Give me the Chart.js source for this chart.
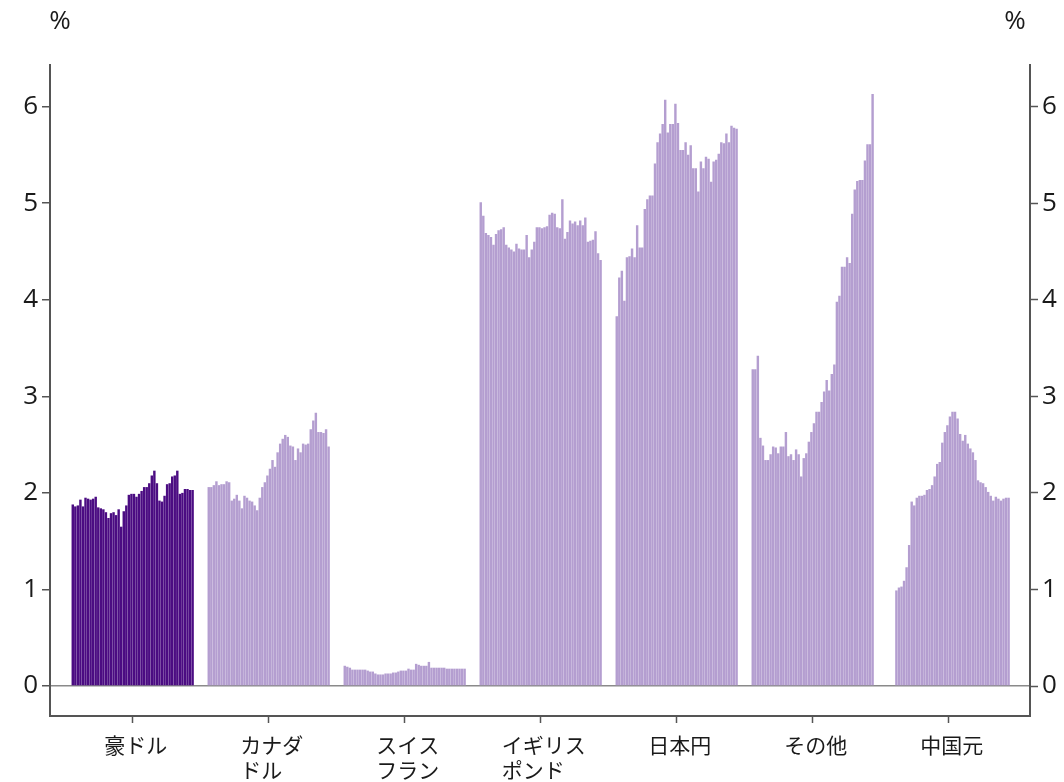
<!DOCTYPE html>
<html>
<head>
<meta charset="utf-8">
<script src="https://cdn.jsdelivr.net/npm/chart.js@4"></script>
<style>
  body { margin: 0; background: #fff; }
  #wrap { width: 1064px; height: 782px; }
</style>
</head>
<body>
<div id="wrap"><canvas id="fxChart"></canvas></div>
<script>
// group names (multi line ones padded so the second line sits left like the original)
const categories = ['豪ドル', ['カナダ', 'ドル\u3000'], ['スイス', 'フラン'], ['イギリス', 'ポンド\u3000'], '日本円', 'その他', '中国元'];
const yTicks = [0, 1, 2, 3, 4, 5, 6];

// quarterly values per currency, %
const audVals = [1.88, 1.86, 1.87, 1.93, 1.86, 1.95, 1.94, 1.93, 1.94, 1.96, 1.85, 1.84, 1.83, 1.80, 1.74, 1.79, 1.80, 1.77, 1.83, 1.65,
  1.81, 1.87, 1.98, 1.99, 1.99, 1.96, 1.99, 2.02, 2.06, 2.06, 2.10, 2.18, 2.23, 2.10, 1.92, 1.91, 1.97, 2.09, 2.10, 2.17,
  2.18, 2.23, 1.99, 2.00, 2.04, 2.04, 2.03, 2.03];
const cadVals = [2.06, 2.06, 2.08, 2.12, 2.08, 2.09, 2.09, 2.12, 2.11, 1.92, 1.94, 1.98, 1.92, 1.84, 1.97, 1.95, 1.92, 1.91, 1.87, 1.82,
  1.95, 2.06, 2.11, 2.18, 2.25, 2.34, 2.27, 2.42, 2.51, 2.56, 2.60, 2.58, 2.49, 2.48, 2.34, 2.46, 2.42, 2.51, 2.50, 2.51,
  2.66, 2.75, 2.83, 2.63, 2.63, 2.62, 2.66, 2.48];
const chfVals = [0.21, 0.20, 0.19, 0.17, 0.17, 0.17, 0.17, 0.17, 0.17, 0.16, 0.15, 0.15, 0.13, 0.12, 0.12, 0.12, 0.13, 0.13, 0.13, 0.14,
  0.14, 0.15, 0.16, 0.16, 0.16, 0.18, 0.17, 0.17, 0.23, 0.22, 0.21, 0.21, 0.21, 0.25, 0.19, 0.19, 0.19, 0.19, 0.19, 0.19,
  0.18, 0.18, 0.18, 0.18, 0.18, 0.18, 0.18, 0.18];
const gbpVals = [5.01, 4.87, 4.69, 4.67, 4.65, 4.57, 4.68, 4.72, 4.73, 4.75, 4.57, 4.54, 4.52, 4.50, 4.58, 4.53, 4.52, 4.52, 4.67, 4.44,
  4.52, 4.60, 4.75, 4.75, 4.74, 4.75, 4.76, 4.88, 4.90, 4.89, 4.75, 4.74, 5.04, 4.63, 4.70, 4.82, 4.79, 4.81, 4.77, 4.82,
  4.77, 4.85, 4.60, 4.61, 4.62, 4.71, 4.48, 4.41];
const jpyVals = [3.83, 4.23, 4.30, 3.99, 4.44, 4.45, 4.53, 4.44, 4.77, 4.54, 4.54, 4.94, 5.04, 5.08, 5.08, 5.41, 5.63, 5.72, 5.82, 6.07,
  5.73, 5.82, 5.82, 6.03, 5.83, 5.55, 5.55, 5.63, 5.50, 5.60, 5.36, 5.36, 5.12, 5.43, 5.36, 5.48, 5.46, 5.22, 5.43, 5.45,
  5.51, 5.63, 5.62, 5.72, 5.63, 5.80, 5.78, 5.77];
const othVals = [3.28, 3.28, 3.42, 2.57, 2.49, 2.34, 2.34, 2.40, 2.48, 2.47, 2.41, 2.48, 2.48, 2.63, 2.38, 2.40, 2.34, 2.45, 2.40, 2.17,
  2.36, 2.41, 2.53, 2.63, 2.72, 2.84, 2.84, 2.94, 3.05, 3.17, 3.06, 3.23, 3.33, 3.98, 4.04, 4.34, 4.34, 4.44, 4.38, 4.89,
  5.14, 5.23, 5.24, 5.24, 5.44, 5.61, 5.61, 6.13];
const cnyVals = [null, null, null, 0.99, 1.02, 1.03, 1.09, 1.23, 1.46, 1.91, 1.87, 1.95, 1.97, 1.97, 1.98, 2.03, 2.04, 2.08, 2.17, 2.30,
  2.32, 2.52, 2.63, 2.70, 2.79, 2.84, 2.84, 2.77, 2.61, 2.54, 2.60, 2.51, 2.46, 2.42, 2.34, 2.13, 2.11, 2.10, 2.06, 2.01,
  1.97, 1.92, 1.96, 1.94, 1.92, 1.94, 1.95, 1.95];

const series = [audVals, cadVals, chfVals, gbpVals, jpyVals, othVals, cnyVals];
const dark = '#4b0c82';
const light = '#b49ed0';
const groupSpan = 0.9; // share of each category the bars fill

// every group becomes its own dataset, bars spread across the group slot
const datasets = series.map(function (vals, g) {
  const pts = [];
  vals.forEach(function (v, i) {
    if (v === null) return;
    pts.push({ x: g - groupSpan / 2 + (i + 0.5) * groupSpan / vals.length, y: v });
  });
  return {
    data: pts,
    backgroundColor: g === 0 ? dark : light,
    borderWidth: 0,
    barPercentage: 0.95,
    categoryPercentage: 1,
    grouped: false
  };
});

// "%" over both y axes
const percentLabels = {
  id: 'percentLabels',
  afterDraw(chart) {
    const ctx = chart.ctx;
    ctx.save();
    ctx.font = '26px "Open Sans"';
    ctx.fillStyle = '#1a1a1a';
    ctx.textAlign = 'center';
    ctx.textBaseline = 'middle';
    ctx.fillText('%', 60, 22);
    ctx.fillText('%', 1015, 22);
    ctx.restore();
  }
};

function setYTicks(axis) {
  axis.ticks = yTicks.map(v => ({ value: v }));
}

const yFont = { family: 'Open Sans', size: 26 };

new Chart(document.getElementById('fxChart'), {
  type: 'bar',
  data: { datasets: datasets },
  options: {
    responsive: true,
    maintainAspectRatio: false,
    animation: false,
    layout: { padding: { top: 65, left: 0, right: 0, bottom: 0 } },
    plugins: {
      legend: { display: false },
      tooltip: { enabled: false }
    },
    scales: {
      x: {
        type: 'linear',
        offset: false,
        min: -0.608,
        max: 6.598,
        afterBuildTicks: function (axis) {
          axis.ticks = categories.map((c, i) => ({ value: i }));
        },
        afterFit: function (axis) { axis.height = 66; },
        ticks: {
          autoSkip: false,
          maxRotation: 0,
          padding: 9,
          labelOffset: 3,
          color: '#1a1a1a',
          font: { family: 'Noto Sans CJK JP', size: 21, lineHeight: 1.2 },
          callback: function (value) { return categories[value]; }
        },
        grid: { offset: false, drawOnChartArea: false, tickLength: 7, tickColor: '#555', tickWidth: 1.5 },
        border: { color: '#555', width: 2 }
      },
      y: {
        position: 'left',
        min: -0.31,
        max: 6.43,
        afterBuildTicks: setYTicks,
        afterFit: function (axis) { axis.width = 50; },
        ticks: { padding: 4, color: '#1a1a1a', font: yFont },
        grid: {
          color: ctx => (ctx.tick && ctx.tick.value === 0 ? '#8a8a8a' : 'rgba(0,0,0,0)'),
          lineWidth: 1.5,
          tickLength: 8,
          tickColor: '#555',
          tickWidth: 1.5
        },
        border: { color: '#555', width: 2 }
      },
      y2: {
        position: 'right',
        min: -0.31,
        max: 6.43,
        afterBuildTicks: setYTicks,
        afterFit: function (axis) { axis.width = 34; },
        ticks: { padding: 4, color: '#1a1a1a', font: yFont },
        grid: { drawOnChartArea: false, tickLength: 8, tickColor: '#555', tickWidth: 1.5 },
        border: { color: '#555', width: 2 }
      }
    }
  },
  plugins: [percentLabels]
});
</script>
</body>
</html>
